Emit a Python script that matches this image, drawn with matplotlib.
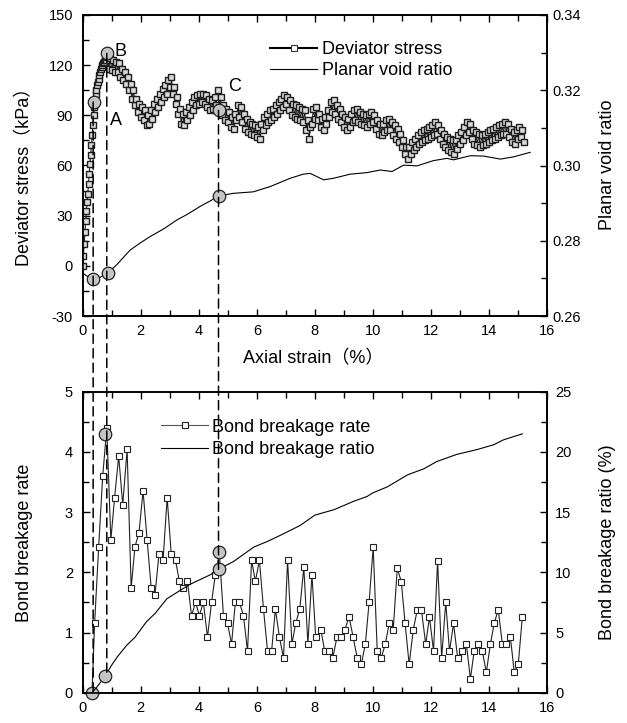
import numpy as np
import matplotlib
matplotlib.use('Agg')
import matplotlib.pyplot as plt
from matplotlib.patches import ConnectionPatch
from matplotlib.lines import Line2D
from matplotlib.ticker import MultipleLocator, FormatStrFormatter

plt.rcParams['font.family'] = ['Liberation Sans', 'Noto Sans CJK SC', 'DejaVu Sans']
plt.rcParams['axes.unicode_minus'] = False

# ---------------- data ----------------
# deviator stress (kPa), sampled every 0.025 % up to 0.8 %, then every 0.05 %
stress_rise = [0, 6, 13, 20, 27, 33, 38, 43, 49, 55, 61, 66, 72, 78, 84, 90, 95,
               99, 103, 105, 108, 110, 112, 114, 116, 118, 119, 120, 121, 122, 122, 123, 123]
stress_rest = [
    125, 118, 124, 117,
    123, 116, 122, 116, 121, 113, 118, 111, 116, 109, 113, 105, 109, 100, 105, 96, 100, 92, 97, 89,
    95, 87, 93, 84, 90, 85, 93, 88, 97, 92, 100, 95, 103, 98, 106, 101, 108, 103, 111, 107,
    113, 103, 107, 97, 101, 91, 94, 85, 91, 84, 92, 87, 95, 90, 98, 93, 101, 96, 102, 97,
    103, 98, 103, 97, 102, 95, 100, 93, 99, 94, 101, 96, 105, 95, 101, 90, 96, 87, 94, 86,
    92, 83, 89, 82, 91, 87, 96, 89, 95, 86, 91, 82, 88, 80, 86, 79, 85, 78, 84, 77,
    83, 76, 85, 81, 89, 84, 91, 86, 93, 87, 94, 89, 96, 91, 98, 93, 100, 95, 102, 97,
    101, 93, 99, 90, 97, 89, 96, 88, 95, 87, 94, 86, 93, 81, 87, 76, 83, 85, 94, 88,
    95, 87, 91, 83, 88, 81, 89, 85, 93, 89, 98, 92, 99, 91, 96, 88, 94, 86, 91, 83,
    89, 81, 88, 83, 91, 86, 93, 87, 94, 86, 92, 85, 91, 84, 90, 83, 91, 85, 92, 86,
    90, 82, 87, 79, 85, 78, 85, 80, 87, 81, 88, 81, 86, 78, 84, 76, 82, 74, 79, 71,
    75, 67, 71, 64, 71, 67, 74, 69, 76, 71, 78, 73, 80, 74, 81, 75, 82, 76, 83, 77,
    84, 78, 86, 79, 84, 76, 81, 73, 79, 71, 77, 69, 76, 68, 75, 67, 75, 70, 78, 73,
    80, 75, 83, 78, 86, 80, 85, 76, 81, 73, 80, 72, 79, 71, 78, 72, 79, 73, 80, 74,
    81, 75, 82, 76, 83, 77, 84, 78, 85, 79, 86, 79, 85, 77, 82, 74, 80, 73, 81, 76,
    83, 77, 81, 74,
]
stress_strain = np.round(np.concatenate([np.arange(0, 0.8001, 0.025),
                                         np.arange(0.85, 15.2001, 0.05)]), 3)
stress = np.array(stress_rise + stress_rest, dtype=float)
n = min(len(stress_strain), len(stress))
stress_strain, stress = stress_strain[:n], stress[:n]

void_strain = [0.0, 0.2, 0.37, 0.6, 0.88, 1.17, 1.63, 2.0, 2.32, 2.8, 3.24, 3.6, 4.04, 4.4,
               4.69, 5.19, 5.88, 6.46, 7.15, 7.6, 7.84, 8.3, 8.64, 9.22, 9.79, 10.25, 10.66,
               11.06, 11.52, 12.09, 12.55, 12.78, 13.36, 13.82, 14.39, 14.85, 15.42]
void_ratio = [0.2714, 0.2703, 0.2698, 0.2703, 0.2715, 0.2736, 0.2775, 0.2795, 0.2811, 0.2832,
              0.2855, 0.2870, 0.2891, 0.2906, 0.2919, 0.2926, 0.2930, 0.2944, 0.2966, 0.2977,
              0.2979, 0.2962, 0.2966, 0.2977, 0.2981, 0.2988, 0.2984, 0.3001, 0.2999, 0.3013,
              0.3019, 0.3015, 0.3026, 0.3025, 0.3017, 0.3023, 0.3035]

rate_strain = [0.32, 0.41, 0.55, 0.69, 0.83, 0.97, 1.1, 1.24, 1.38, 1.53, 1.67, 1.80, 1.94,
               2.08, 2.22, 2.36, 2.49, 2.63, 2.77, 2.91, 3.05, 3.2, 3.33, 3.47, 3.61, 3.75,
               3.89, 4.02, 4.16, 4.3, 4.44, 4.57, 4.71, 4.85, 4.99, 5.13, 5.26, 5.40, 5.54,
               5.68, 5.82, 5.95, 6.09, 6.23, 6.37, 6.51, 6.64, 6.78, 6.92, 7.06, 7.21, 7.34,
               7.48, 7.62, 7.76, 7.90, 8.03, 8.21, 8.34, 8.48, 8.62, 8.76, 8.90, 9.03, 9.18,
               9.32, 9.46, 9.60, 9.74, 9.87, 10.01, 10.15, 10.29, 10.43, 10.56, 10.70, 10.84,
               10.98, 11.11, 11.25, 11.39, 11.53, 11.67, 11.82, 11.95, 12.09, 12.23, 12.37,
               12.51, 12.64, 12.78, 12.92, 13.06, 13.22, 13.36, 13.49, 13.63, 13.77, 13.91,
               14.05, 14.18, 14.32, 14.46, 14.60, 14.74, 14.87, 15.01, 15.15]
bond_rate = [0.0, 1.15, 2.42, 3.6, 4.4, 2.54, 3.24, 3.93, 3.12, 4.04, 1.74, 2.42, 2.66,
             3.35, 2.54, 1.74, 1.62, 2.31, 2.2, 3.24, 2.31, 2.2, 1.85, 1.74, 1.85, 1.28,
             1.5, 1.28, 1.5, 0.92, 1.5, 1.96, 2.31, 1.28, 1.15, 0.81, 1.5, 1.5, 1.28,
             0.69, 2.2, 1.85, 2.2, 1.39, 0.69, 0.69, 1.39, 0.92, 0.58, 2.2, 0.81, 1.15,
             1.39, 2.08, 0.81, 1.96, 0.92, 1.04, 0.69, 0.69, 0.58, 0.92, 0.92, 1.04, 1.26,
             0.92, 0.58, 0.47, 0.81, 1.5, 2.42, 0.69, 0.58, 0.81, 1.15, 1.04, 2.07,
             1.84, 1.15, 0.47, 1.04, 1.38, 1.38, 0.81, 1.26, 0.69, 2.19, 0.58,
             1.5, 0.69, 1.15, 0.58, 0.69, 0.81, 0.23, 0.69, 0.81, 0.69, 0.34,
             0.81, 1.15, 1.38, 0.81, 0.81, 0.92, 0.34, 0.47, 1.26]

ratio_strain = [0.32, 0.5, 0.78, 1.0, 1.2, 1.52, 1.8, 2.2, 2.5, 2.9, 3.36, 3.7, 4.05, 4.4,
                4.68, 5.2, 5.9, 6.4, 6.92, 7.5, 8.0, 8.66, 9.34, 9.8, 10.0, 10.5, 11.2,
                11.76, 12.2, 12.9, 13.6, 14.17, 14.5, 15.15]
bond_ratio = [0.0, 0.5, 1.4, 2.3, 3.0, 3.95, 4.6, 5.9, 6.6, 7.8, 8.5, 9.0, 9.4, 9.8,
              10.25, 10.9, 12.1, 12.6, 13.2, 13.9, 14.75, 15.2, 15.9, 16.3, 16.6, 17.1, 18.1,
              18.6, 19.2, 19.8, 20.2, 20.6, 21.0, 21.5]

# key points (A, B, C)
key_stress_x = [0.39, 0.85, 4.68]
key_stress_y = [98, 127, 93]
key_void_x = [0.37, 0.88, 4.68]
key_void_y = [0.2698, 0.2715, 0.2919]
key_rate_x = [0.33, 0.78, 4.70]
key_rate_y = [0.0, 4.3, 2.33]
key_ratio_x = [0.78, 4.68]
key_ratio_y = [1.4, 10.25]
key_labels = ['A', 'B', 'C']
key_label_x = [0.94, 1.08, 5.0]
key_label_y = [87, 128, 107]

# ---------------- figure ----------------
W, H = 627, 723
fig = plt.figure(figsize=(W / 100, H / 100), dpi=100)
L, R = 82.7, 547.0
ax1 = fig.add_axes([L / W, 1 - 316 / H, (R - L) / W, 301 / H])
ax3 = fig.add_axes([L / W, 1 - 692.7 / H, (R - L) / W, 301 / H])
ax1b = ax1.twinx()
ax3b = ax3.twinx()

circ = dict(marker='o', ms=9, mfc='#c4c4c4', mec='#222222', mew=0.9, ls='none', clip_on=False, zorder=6)

# top panel
ax1.plot(stress_strain, stress, color='#222222', lw=0.8, marker='s', ms=4.6,
         mfc='#dadada', mec='#1e1e1e', mew=1.0, zorder=3)
ax1.plot(key_stress_x, key_stress_y, **circ)
for t, x, y in zip(key_labels, key_label_x, key_label_y):
    ax1.text(x, y, t, fontsize=13, ha='left', va='center', zorder=7)
ax1b.plot(void_strain, void_ratio, color='black', lw=0.8)
ax1b.plot(key_void_x, key_void_y, **circ)

ax1.set_xlim(0, 16)
ax1.set_ylim(-30, 150)
ax1b.set_ylim(0.26, 0.34)
ax1.xaxis.set_major_locator(MultipleLocator(2))
ax1.xaxis.set_minor_locator(MultipleLocator(1))
ax1.yaxis.set_major_locator(MultipleLocator(30))
ax1.yaxis.set_minor_locator(MultipleLocator(15))
ax1b.yaxis.set_major_locator(MultipleLocator(0.02))
ax1b.yaxis.set_minor_locator(MultipleLocator(0.01))
ax1b.yaxis.set_major_formatter(FormatStrFormatter('%.2f'))

# bottom panel
ax3.plot(rate_strain, bond_rate, color='#222222', lw=0.8, marker='s', ms=4.5,
         mfc='white', mec='#222222', mew=0.8, zorder=3)
ax3.plot(key_rate_x, key_rate_y, **circ)
ax3b.plot(ratio_strain, bond_ratio, color='black', lw=0.8)
ax3b.plot(key_ratio_x, key_ratio_y, **circ)
ax3.set_xlim(0, 16)
ax3.set_ylim(0, 5)
ax3b.set_ylim(0, 25)
ax3.xaxis.set_major_locator(MultipleLocator(2))
ax3.xaxis.set_minor_locator(MultipleLocator(1))
ax3.yaxis.set_major_locator(MultipleLocator(1))
ax3.yaxis.set_minor_locator(MultipleLocator(0.5))
ax3b.yaxis.set_major_locator(MultipleLocator(5))
ax3b.yaxis.set_minor_locator(MultipleLocator(2.5))

for a in (ax1, ax3):
    a.tick_params(axis='both', which='both', direction='in', top=True, right=False,
                  labelsize=10.5, width=1.0)
    a.tick_params(which='major', length=5)
    a.tick_params(which='minor', length=4)
    a.tick_params(axis='y', pad=7)
    a.tick_params(axis='x', pad=6)
for a in (ax1b, ax3b):
    a.tick_params(axis='y', which='both', direction='in', labelsize=10.5, width=1.0)
    a.tick_params(which='major', length=5)
    a.tick_params(which='minor', length=4)
ax1b.tick_params(axis='y', pad=4)
ax3b.tick_params(axis='y', pad=6)
for a in (ax1, ax3, ax1b, ax3b):
    for s in a.spines.values():
        s.set_linewidth(1.2)

# legends
h_dev = Line2D([], [], color='black', lw=1.5, marker='s', ms=4.2, mfc='white', mec='#333333', mew=0.8)
h_void = Line2D([], [], color='black', lw=0.8)
ax1b.legend([h_dev, h_void], ['Deviator stress', 'Planar void ratio'], loc='center left',
            bbox_to_anchor=(0.404, 0.849), frameon=False, fontsize=13, handlelength=2.6,
            handletextpad=0.25, borderpad=0, borderaxespad=0, labelspacing=0.22, numpoints=1)
h_rate = Line2D([], [], color='#555555', lw=0.8, marker='s', ms=4.5, mfc='white', mec='#222222', mew=0.8)
h_ratio = Line2D([], [], color='black', lw=0.8)
ax3b.legend([h_rate, h_ratio], ['Bond breakage rate', 'Bond breakage ratio'], loc='center left',
            bbox_to_anchor=(0.169, 0.845), frameon=False, fontsize=13, handlelength=2.6,
            handletextpad=0.2, borderpad=0, borderaxespad=0, labelspacing=0.3, numpoints=1)

# axis labels
fig.text(25 / W, 1 - 172 / H, 'Deviator stress（kPa）', rotation=90, ha='center', va='center', fontsize=13)
fig.text(607 / W, 1 - 165 / H, 'Planar void ratio', rotation=90, ha='center', va='center', fontsize=13)
fig.text(313 / W, 1 - 359 / H, 'Axial strain（%）', ha='center', va='center', fontsize=13)
fig.text(25 / W, 1 - 543 / H, 'Bond breakage rate', rotation=90, ha='center', va='center', fontsize=13)
fig.text(607 / W, 1 - 542 / H, 'Bond breakage ratio (%)', rotation=90, ha='center', va='center', fontsize=13)

# dashed guide lines
dash = dict(color='black', lw=1.1, ls=(0, (6, 3.5)), zorder=8)
guides = [((0.36, 98), ax1, (0.36, 0.0), ax3),
          ((0.83, 127), ax1, (0.83, 0.28), ax3),
          ((4.68, 93), ax1, (4.68, 2.05), ax3)]
for pa, aa, pb, ab in guides:
    con = ConnectionPatch(xyA=pa, coordsA=aa.transData, xyB=pb, coordsB=ab.transData, **dash)
    fig.add_artist(con)

fig.savefig('out.png', dpi=100)
